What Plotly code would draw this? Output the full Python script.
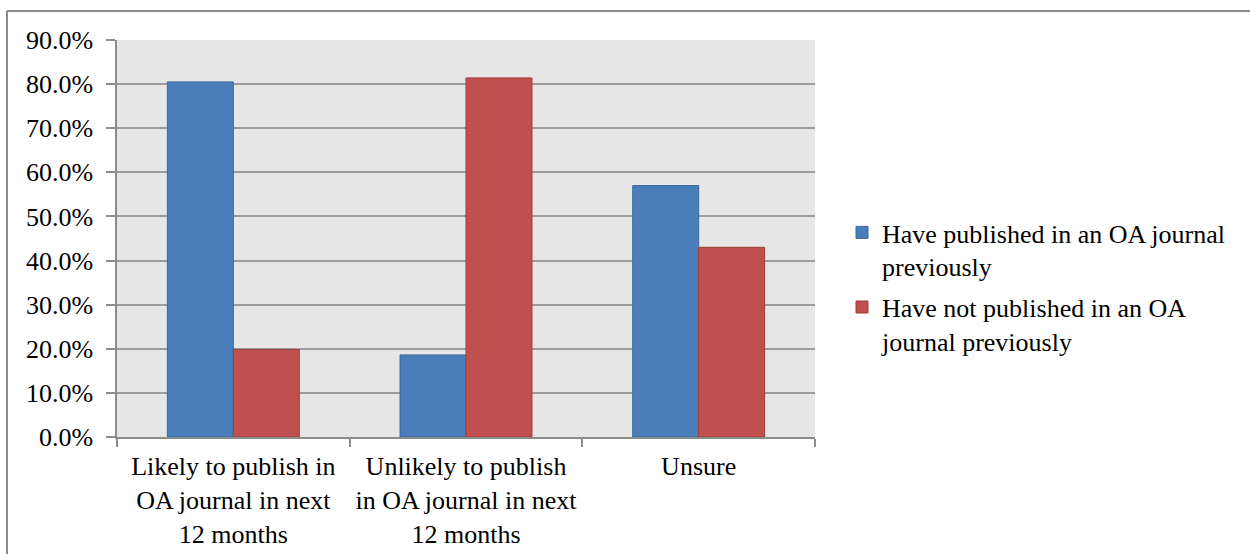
import plotly.graph_objects as go

categories = [
    "Likely to publish in<br>OA journal in next<br>12 months",
    "Unlikely to publish<br>in OA journal in next<br>12 months",
    "Unsure",
]
series_names = [
    "Have published in an OA journal<br>previously",
    "Have not published in an OA<br>journal previously",
]
published_vals = [80.5, 18.6, 57.0]
not_published_vals = [19.8, 81.4, 43.0]
y_ticks = [0, 10, 20, 30, 40, 50, 60, 70, 80, 90]
y_tick_labels = ["0.0%", "10.0%", "20.0%", "30.0%", "40.0%", "50.0%",
                 "60.0%", "70.0%", "80.0%", "90.0%"]

FONT = "Liberation Serif, Times New Roman, serif"
FS = 26
W, H = 1250, 554
L, R, T, B = 117, 435, 40, 117
pw = W - L - R
ph = H - T - B

fig = go.Figure()
fig.add_trace(go.Bar(
    x=categories, y=published_vals, name=series_names[0], legendgroup="a",
    marker=dict(color="#4A7EBB", line=dict(color="#3A679C", width=1)),
))
fig.add_trace(go.Bar(
    x=categories, y=not_published_vals, name=series_names[1], legendgroup="b",
    marker=dict(color="#C0504D", line=dict(color="#9E3C39", width=1)),
))

def px_x(p):
    return (p - L) / pw

def px_y(p):
    return (H - B - p) / ph

fig.update_layout(
    width=W, height=H,
    margin=dict(l=L, r=R, t=T, b=B, autoexpand=False),
    barmode="group", bargap=0.433, bargroupgap=0,
    plot_bgcolor="#E6E6E6", paper_bgcolor="white",
    font=dict(family=FONT, size=FS, color="black"),
    xaxis=dict(
        type="category", tickson="boundaries", ticks="outside", ticklen=8,
        tickcolor="#8C8C8C", tickwidth=1.5, showgrid=False,
        showline=True, linecolor="#8C8C8C", linewidth=1.5,
        ticklabelstandoff=5, tickfont=dict(family=FONT, size=FS, color="black"),
    ),
    yaxis=dict(
        range=[0, 90], tickvals=y_ticks, ticktext=y_tick_labels,
        ticks="outside", ticklen=9, tickcolor="#8C8C8C", tickwidth=1.5,
        showgrid=True, gridcolor="#9C9C9C", gridwidth=1.5,
        showline=True, linecolor="#8C8C8C", linewidth=1.5,
        zeroline=False, ticklabelstandoff=8,
        tickfont=dict(family=FONT, size=FS, color="black"),
    ),
    legend=dict(
        x=px_x(842), y=px_y(209), xanchor="left", yanchor="top",
        valign="top", bgcolor="rgba(0,0,0,0)", borderwidth=0,
        tracegroupgap=4,
        font=dict(family=FONT, size=FS, color="black"),
    ),
    shapes=[
        dict(type="line", xref="paper", yref="paper",
             x0=px_x(7), x1=px_x(1260), y0=px_y(11), y1=px_y(11),
             line=dict(color="#8C8C8C", width=2)),
        dict(type="line", xref="paper", yref="paper",
             x0=px_x(7), x1=px_x(7), y0=px_y(11), y1=px_y(570),
             line=dict(color="#8C8C8C", width=2)),
    ],
)

fig.write_html(
    "out.html",
    config={"displayModeBar": False},
    post_script="document.body.style.margin='0';",
)
